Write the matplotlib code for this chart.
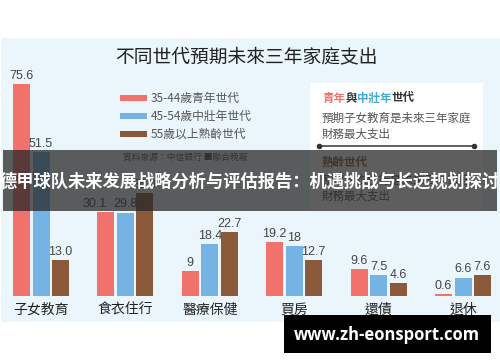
import matplotlib
matplotlib.use('Agg')
import matplotlib.pyplot as plt
from matplotlib.patches import Rectangle
import numpy as np

plt.rcParams['font.family'] = ['Noto Sans CJK TC', 'DejaVu Sans']

categories = ['子女教育', '食衣住行', '醫療保健', '買房', '還債', '退休']
series_names = ['35-44歲青年世代', '45-54歲中壯年世代', '55歲以上熟齡世代']
young = [75.6, 30.1, 9, 19.2, 9.6, 0.6]
middle = [51.5, 29.8, 18.4, 18, 7.5, 6.6]
senior = [13.0, 36.9, 22.7, 12.7, 4.6, 7.6]
value_labels = [
    ['75.6', '30.1', '9', '19.2', '9.6', '0.6'],
    ['51.5', '29.8', '18.4', '18', '7.5', '6.6'],
    ['13.0', '36.9', '22.7', '12.7', '4.6', '7.6'],
]
colors = ['#f0726b', '#74b3e3', '#8a5a3b']

title = '不同世代預期未來三年家庭支出'
source = '資料來源：中信銀行 ■聯合晚報'
banner = '德甲球队未来发展战略分析与评估报告：机遇挑战与长远规划探讨'
watermark = 'www.zh-eonsport.com'

W, H = 500, 362
fig = plt.figure(figsize=(W / 100, H / 100), dpi=100)

# background layer in pixel coordinates
bg = fig.add_axes([0, 0, 1, 1], zorder=0)
bg.set_xlim(0, W)
bg.set_ylim(H, 0)
bg.axis('off')
bg.add_patch(Rectangle((1, 38), W, 284, color='#eaf6fc', lw=0))

bg.text(246, 57, title, fontsize=13.5, color='#222222', ha='center', va='center')

# legend
for i, name in enumerate(series_names):
    y = [98, 116, 134][i]
    bg.add_patch(Rectangle((120, y - 3), 27, 6, color=colors[i], lw=0))
    bg.text(151, y, name, fontsize=8.5, color='#555555', va='center')

bg.text(123, 157, source, fontsize=6.3, color='#555555', va='center')

# note box
bg.add_patch(Rectangle((310, 83), 173, 128, facecolor='white', edgecolor='none'))
x0 = 322
for txt, c in [('青年', '#f0726b'), ('與', '#333333'), ('中壯年', '#3fa9e0'), ('世代', '#333333')]:
    bg.text(x0, 98, txt, fontsize=8.3, color=c, weight='bold', va='center')
    x0 += len(txt) * 11.6
bg.text(322, 118, '預期子女教育是未來三年家庭', fontsize=8.3, color='#555555', va='center')
bg.text(322, 134, '財務最大支出', fontsize=8.3, color='#555555', va='center')
bg.plot([319, 474], [146, 146], color='#444444', lw=1.2)
bg.plot([319, 474], [146, 146], 'o', color='#333333', ms=3)
bg.text(322, 162, '熟齡世代', fontsize=8.3, color='#8a5a3b', weight='bold', va='center')
bg.text(322, 180, '預期食衣住行是未來三年家庭', fontsize=8.3, color='#555555', va='center')
bg.text(322, 196, '財務最大支出', fontsize=8.3, color='#555555', va='center')

# bar chart
unit = 84.4
base_px = 296
ax = fig.add_axes([0, (H - base_px) / H, 1, base_px / H], zorder=1)
ax.patch.set_alpha(0)
ax.set_xlim(-41 / unit, (W - 41) / unit)
ax.set_ylim(0, base_px / 2.8)
for s in ax.spines.values():
    s.set_visible(False)
ax.set_yticks([])

# labels that sit off-centre in the original to avoid touching
nudge = {(0, 1): -8}

x = np.arange(len(categories))
bw = 17 / unit
step = 19.5 / unit
for i, vals in enumerate([young, middle, senior]):
    xs = x + (i - 1) * step
    ax.bar(xs, vals, width=bw, color=colors[i], lw=0)
    for j, (xi, v, lab) in enumerate(zip(xs, vals, value_labels[i])):
        ax.annotate(lab, (xi, v), xytext=(nudge.get((i, j), 0), 1.5),
                    textcoords='offset points', ha='center', va='bottom',
                    fontsize=9, color='#444444', family='Liberation Sans')

ax.set_xticks(x)
ax.set_xticklabels(categories, fontsize=10, color='#222222')
ax.tick_params(axis='x', length=0, pad=5)

# overlay layer
ov = fig.add_axes([0, 0, 1, 1], zorder=2)
ov.set_xlim(0, W)
ov.set_ylim(H, 0)
ov.axis('off')
ov.patch.set_alpha(0)
ov.add_patch(Rectangle((3, 150), 494, 61, facecolor='#262626', alpha=0.74, lw=0))
ov.text(250, 182, banner, fontsize=12.4, color='white', weight='bold',
        ha='center', va='center', family=['Noto Sans CJK SC', 'DejaVu Sans'])
ov.add_patch(Rectangle((284, 315), 207, 38, facecolor='black', lw=0))
ov.text(387, 335, watermark, fontsize=12, color='white', weight='bold',
        ha='center', va='center', family='Open Sans')

fig.savefig('out.png', dpi=100)
